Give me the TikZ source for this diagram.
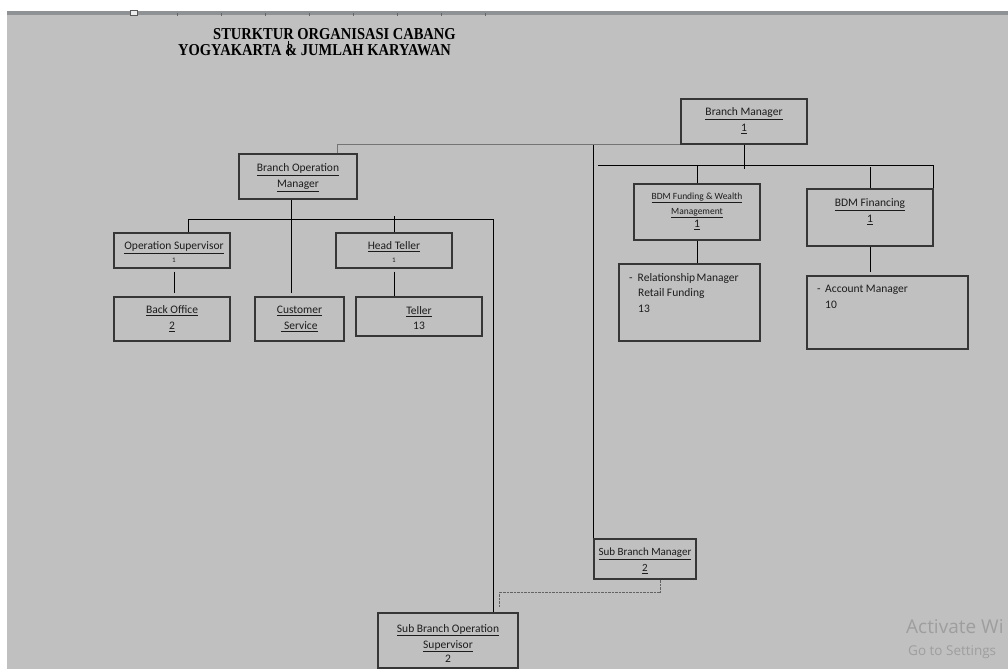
\documentclass[tikz,border=0pt]{standalone}
\usepackage{fontspec}
\usepackage{graphicx}
\setmainfont{Carlito}
\newfontfamily\titlefont{Liberation Serif}[BoldFont={Liberation Serif Bold}]
\newfontfamily\wmfont{Open Sans}
\usetikzlibrary{calc}

\definecolor{pagegray}{HTML}{C0C0C0}
\definecolor{rulergray}{HTML}{8F9295}
\definecolor{boxline}{HTML}{363636}
\definecolor{inkc}{HTML}{1C1C1C}
\definecolor{linkgray}{HTML}{747474}
\definecolor{wmgray}{HTML}{9E9E9E}

\newcommand{\udl}[1]{\underline{#1}}
\newcommand{\tinyone}{{\fontsize{7}{8}\selectfont 1}}
\newcommand{\tallcaps}[1]{\scalebox{1}[1.15]{#1}}

\tikzset{
  orgbox/.style={draw=boxline, line width=1.2pt, inner sep=0pt},
  boxtext/.style={text=inkc, align=center, inner sep=0pt,
    font=\fontsize{11.5}{16}\selectfont},
  listtext/.style={text=inkc, align=left, inner sep=0pt, anchor=north west,
    font=\fontsize{11.5}{15.5}\selectfont},
  titletext/.style={text=black, inner sep=0pt, anchor=base west,
    font=\titlefont\bfseries\fontsize{14.5}{16}\selectfont},
  link/.style={draw=black, line width=0.9pt},
  softlink/.style={draw=linkgray, line width=0.9pt},
  dotlink/.style={draw=linkgray!85!black, line width=1pt, dash pattern=on 0.8pt off 0.6pt},
  wmtext/.style={text=wmgray, inner sep=0pt, anchor=base west, font=\wmfont},
}

\begin{document}
\begin{tikzpicture}[x=1pt,y=-1pt]
\useasboundingbox (0,0) rectangle (1008,669);

% page, ruler strip and ruler ticks
\fill[white] (0,0) rectangle (1008,669);
\fill[pagegray] (7,15) rectangle (1008,669);
\fill[rulergray] (7,11) rectangle (1008,15.5);
\foreach \t in {177,221,265,309,353,397,441,485}
  \draw[black!60, line width=0.6pt] (\t,13) -- (\t,16);
\draw[fill=gray!15, draw=gray!70!black, line width=0.5pt] (130,10.5) rectangle (137,15.5);

% heading
\node[titletext] (title1) at (213,40) {\tallcaps{STURKTUR ORGANISASI CABANG}};
\node[titletext] (title2) at (178,56) {\tallcaps{YOGYAKARTA \& JUMLAH KARYAWAN}};
\draw[black, line width=0.7pt] (288.5,41.5) -- (288.5,56);

% boxes
\node[orgbox, minimum width=126pt, minimum height=45pt] (bm)      at (744,121.5) {};
\node[orgbox, minimum width=118pt, minimum height=45pt] (bom)     at (298,176.5) {};
\node[orgbox, minimum width=126pt, minimum height=56pt] (bdmfund) at (697,212) {};
\node[orgbox, minimum width=126pt, minimum height=57pt] (bdmfin)  at (870,217.5) {};
\node[orgbox, minimum width=141pt, minimum height=77pt] (rm)      at (689.5,302.5) {};
\node[orgbox, minimum width=161pt, minimum height=73pt] (am)      at (887.5,312.5) {};
\node[orgbox, minimum width=116pt, minimum height=35pt] (os)      at (172,250.5) {};
\node[orgbox, minimum width=116pt, minimum height=35pt] (ht)      at (394,250.5) {};
\node[orgbox, minimum width=116pt, minimum height=44pt] (bo)      at (172,319) {};
\node[orgbox, minimum width=89pt,  minimum height=44pt] (cs)      at (299.5,319) {};
\node[orgbox, minimum width=126pt, minimum height=39pt] (tel)     at (419,316.5) {};
\node[orgbox, minimum width=102pt, minimum height=40pt] (sbm)     at (645,559) {};
\node[orgbox, minimum width=140pt, minimum height=55pt] (sbos)    at (448,640.5) {};

% box texts
\node[boxtext] (bmT)      at (744,121) {\udl{Branch Manager}\\\udl{1}};
\node[boxtext] (bomT)     at (298,177.5) {\udl{Branch Operation}\\\udl{Manager}};
\node[boxtext] (bdmfundT) at (697,211) {{\fontsize{9.5}{12}\selectfont\udl{BDM Funding \& Wealth}}\\[-1pt]{\fontsize{9.5}{12}\selectfont\udl{Management}}\\[-3pt]\udl{1}};
\node[boxtext] (bdmfinT)  at (870,212) {\udl{BDM Financing}\\\udl{1}};
\node[boxtext] (osT)      at (174,252) {\udl{Operation Supervisor}\\[-3pt]\tinyone};
\node[boxtext] (htT)      at (394,252) {\udl{Head Teller}\\[-3pt]\tinyone};
\node[boxtext] (boT)      at (172,319) {\udl{Back Office}\\\udl{2}};
\node[boxtext] (csT)      at (299.5,319) {\udl{Customer}\\\udl{\ Service}};
\node[boxtext] (telT)     at (419,318.5) {\udl{Teller}\\[-1pt]13};
\node[boxtext, font=\fontsize{11}{16}\selectfont] (sbmT) at (645,561) {\udl{Sub Branch Manager}\\\udl{2}};
\node[boxtext] (sbosT)    at (448,643) {\udl{Sub Branch Operation}\\\udl{Supervisor}\\[-2pt]2};
\node[listtext] (rmT) at (629,273) {-\hspace{5pt}Relationship\hspace{1.5pt}Manager\\\hspace{9pt}Retail Funding\\\hspace{9pt}13};
\node[listtext] (amT) at (817,285) {-\hspace{4.5pt}Account Manager\\\hspace{8pt}10};

% connectors
\draw[softlink] ($(bom.north)+(39,0)$) |- (bm.south west);
\draw[link] (sbm.north west) -- (sbm.north west |- bm.south);
\draw[link] (bm.south) -- ++(0,24);
\coordinate (fundbus) at (598,165);
\draw[link] (fundbus) -| (bdmfin.north east);
\draw[link] (bdmfund.north) -- (bdmfund.north |- fundbus);
\draw[link] (bdmfin.north) -- ++(0,-21);
\draw[link] (bdmfund.south) -- (bdmfund.south |- rm.north);
\draw[link] (bdmfin.south) -- ++(0,25);
\draw[link] ($(bom.south)+(-7,0)$) -- ++(0,93);
\coordinate (opsbus) at (493,219);
\draw[link] ($(os.north)+(16,0)$) |- (opsbus) -- ($(sbos.north)+(45,0)$);
\draw[link] (ht.north) -- ++(0,-16);
\draw[link] ($(os.south)+(2,3)$) -- ($(bo.north)+(2,-3)$);
\draw[link] ($(ht.south)+(0,3)$) -- (ht.south |- tel.north);
\draw[dotlink] ($(sbm.south)+(15,0)$) |- ($(sbos.north)+(51,-20)$) -- ++(0,14);

% system watermark
\node[wmtext, font=\wmfont\fontsize{19}{22}\selectfont] (wm1) at (906,633) {Activate Wi};
\node[wmtext, font=\wmfont\fontsize{13.5}{16}\selectfont] (wm2) at (908,655) {Go to Settings};
\end{tikzpicture}
\end{document}
